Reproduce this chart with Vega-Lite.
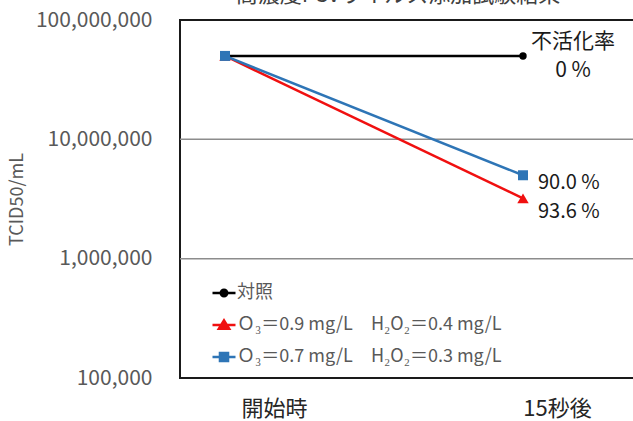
{
  "$schema": "https://vega.github.io/schema/vega-lite/v6.json",
  "autosize": "none",
  "width": 460,
  "height": 358,
  "padding": {"left": 180, "top": 20, "right": 0, "bottom": 43},
  "background": "#ffffff",
  "config": {
    "font": "Noto Sans CJK JP",
    "view": {"stroke": "#1a1a1a", "strokeWidth": 2}
  },
  "title": {
    "text": "高濃度FCVウイルス添加試験結果",
    "fontSize": 22,
    "fontWeight": "normal",
    "color": "#404040",
    "anchor": "middle",
    "frame": "group",
    "baseline": "bottom",
    "offset": 0,
    "dy": 20,
    "dx": -12
  },
  "datasets": {
    "main": [
      {"series": "対照", "time": "開始時", "value": 50000000},
      {"series": "対照", "time": "15秒後", "value": 50000000},
      {"series": "Ｏ₃＝0.9 mg/L　H₂O₂＝0.4 mg/L", "time": "開始時", "value": 50000000},
      {"series": "Ｏ₃＝0.9 mg/L　H₂O₂＝0.4 mg/L", "time": "15秒後", "value": 3200000},
      {"series": "Ｏ₃＝0.7 mg/L　H₂O₂＝0.3 mg/L", "time": "開始時", "value": 50000000},
      {"series": "Ｏ₃＝0.7 mg/L　H₂O₂＝0.3 mg/L", "time": "15秒後", "value": 5000000}
    ],
    "grid": [{"value": 1000000}, {"value": 10000000}],
    "blueNote": [
      {"time": "15秒後", "value": 5000000, "label": "90.0 %"}
    ],
    "redNote": [
      {"time": "15秒後", "value": 3200000, "label": "93.6 %"}
    ],
    "ctrl": [
      {"time": "15秒後", "value": 50000000, "label": "不活化率\n0 %"}
    ]
  },
  "encoding": {
    "x": {
      "field": "time",
      "type": "nominal",
      "sort": ["開始時", "15秒後"],
      "scale": {"type": "point", "range": [45, 343], "padding": 0},
      "axis": {
        "title": null,
        "domain": false,
        "ticks": false,
        "grid": false,
        "labelAngle": 0,
        "labelFontSize": 22,
        "labelColor": "#262626",
        "labelPadding": 20,
        "labelBaseline": "top",
        "labelOffset": {"condition": {"test": "datum.value === '開始時'", "value": 49}, "value": 34}
      }
    },
    "y": {
      "field": "value",
      "type": "quantitative",
      "scale": {"type": "log", "domain": [100000, 100000000], "nice": false},
      "axis": {
        "title": "TCID50/mL",
        "titleFontSize": 18,
        "titleFontWeight": "normal",
        "titleColor": "#595959",
        "titleAngle": 270,
        "titleX": -163,
        "titleY": 179,
        "titleAlign": "center",
        "titleBaseline": "middle",
        "values": [100000, 1000000, 10000000, 100000000],
        "format": ",",
        "labelFontSize": 21,
        "labelColor": "#595959",
        "labelPadding": 28,
        "labelBaseline": "middle",
        "domain": false,
        "ticks": false,
        "grid": false
      }
    }
  },
  "layer": [
    {
      "data": {"name": "grid"},
      "mark": {"type": "rule", "color": "#8c8c8c", "strokeWidth": 1.5},
      "encoding": {"x": null, "y": {"field": "value", "type": "quantitative"}}
    },
    {
      "data": {"name": "main"},
      "mark": {"type": "line", "strokeWidth": 2.5},
      "encoding": {
        "color": {
          "field": "series",
          "type": "nominal",
          "sort": ["対照", "Ｏ₃＝0.9 mg/L　H₂O₂＝0.4 mg/L", "Ｏ₃＝0.7 mg/L　H₂O₂＝0.3 mg/L"],
          "scale": {
            "domain": ["対照", "Ｏ₃＝0.9 mg/L　H₂O₂＝0.4 mg/L", "Ｏ₃＝0.7 mg/L　H₂O₂＝0.3 mg/L"],
            "range": ["#000000", "#f01010", "#2e75b6"]
          },
          "legend": {
            "orient": "none",
            "legendX": 31,
            "legendY": 260,
            "title": null,
            "padding": 0,
            "symbolSize": 529,
            "symbolStrokeWidth": 2.5,
            "symbolType": "M-1,0H1",
            "labelFontSize": 18,
            "labelColor": "#595959",
            "labelOffset": 0,
            "labelLimit": 500,
            "rowPadding": 10,
            "encode": {
              "symbols": {
                "update": {
                  "shape": {"signal": "datum.value === '対照' ? 'M-1,0H1M0.28,0A0.28,0.28,0,1,1,-0.28,0A0.28,0.28,0,1,1,0.28,0Z' : (indexof(datum.value, '0.9') >= 0 ? 'M-1,0H1M0,-0.4L0.45,0.33L-0.45,0.33Z' : 'M-1,0H1M-0.35,-0.35H0.35V0.35H-0.35Z')"},
                  "fill": {"scale": "color", "field": "value"},
                  "fillOpacity": {"value": 1},
                  "stroke": {"scale": "color", "field": "value"},
                  "strokeWidth": {"value": 2.5},
                  "opacity": {"value": 1}
                }
              }
            }
          }
        }
      }
    },
    {
      "data": {"name": "main"},
      "transform": [{"filter": "datum.series === '対照'"}],
      "mark": {"type": "point", "shape": "circle", "filled": true, "opacity": 1, "color": "#000000", "size": 55}
    },
    {
      "data": {"name": "main"},
      "transform": [{"filter": "indexof(datum.series, '0.9') >= 0"}],
      "mark": {"type": "point", "shape": "triangle-up", "filled": true, "opacity": 1, "color": "#f01010", "size": 130}
    },
    {
      "data": {"name": "main"},
      "transform": [{"filter": "indexof(datum.series, '0.7') >= 0"}],
      "mark": {"type": "point", "shape": "square", "filled": true, "opacity": 1, "color": "#2e75b6", "size": 100}
    },
    {
      "data": {"name": "blueNote"},
      "mark": {"type": "text", "align": "left", "baseline": "middle", "dx": 15, "dy": 8, "fontSize": 20, "color": "#1a1a1a"},
      "encoding": {"text": {"field": "label"}}
    },
    {
      "data": {"name": "redNote"},
      "mark": {"type": "text", "align": "left", "baseline": "middle", "dx": 15, "dy": 14, "fontSize": 20, "color": "#1a1a1a"},
      "encoding": {"text": {"field": "label"}}
    },
    {
      "data": {"name": "ctrl"},
      "mark": {"type": "text", "align": "center", "baseline": "middle", "dx": 50, "dy": -14, "fontSize": 21, "lineBreak": "\n", "lineHeight": 29, "color": "#1a1a1a"},
      "encoding": {"text": {"field": "label"}}
    }
  ]
}
